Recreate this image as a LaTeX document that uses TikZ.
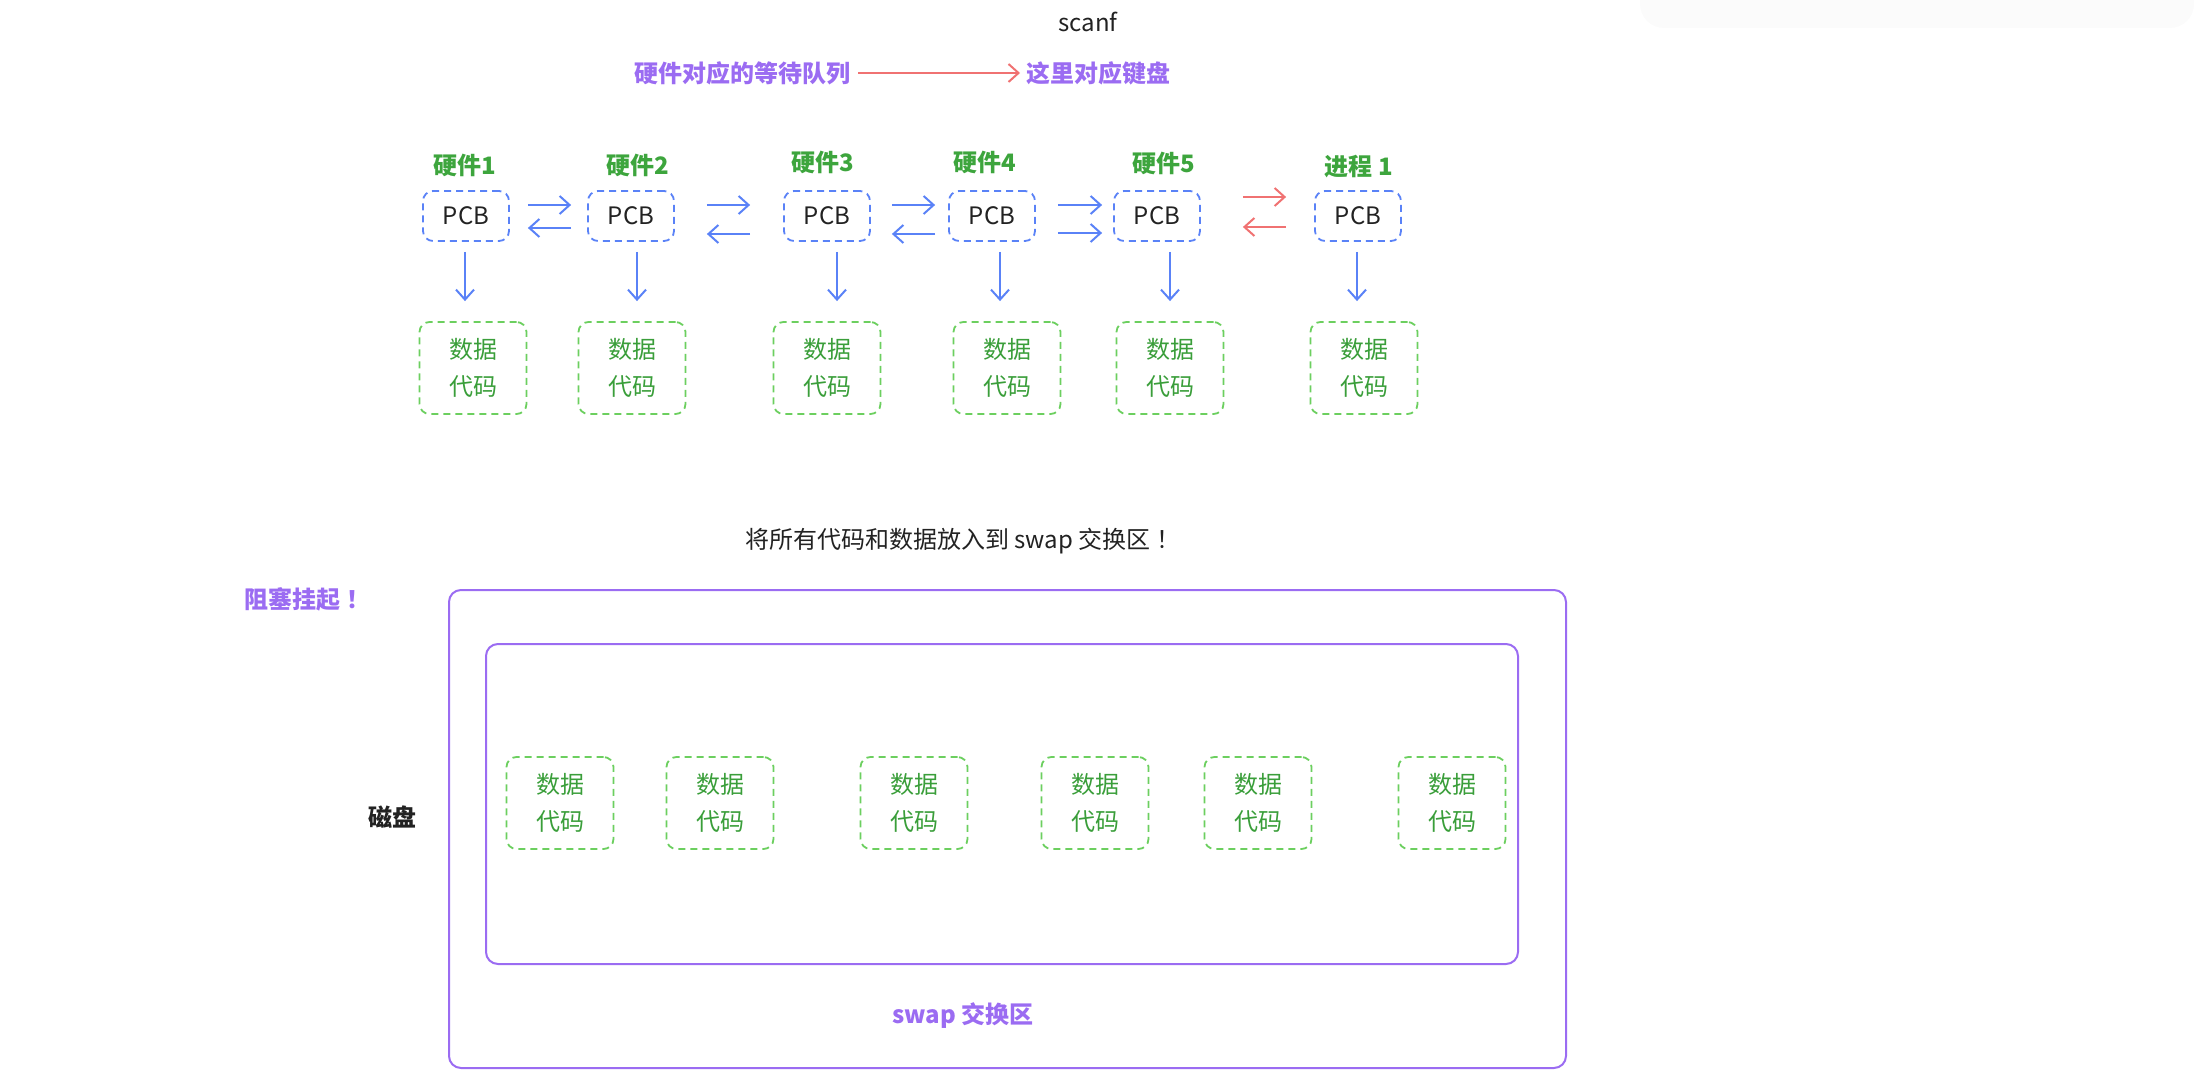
\documentclass[tikz,border=0pt]{standalone}
\usepackage{fontspec}
\setmainfont{Noto Sans CJK SC}
% centred full-width punctuation
\newfontfamily\punctfont{Noto Sans CJK TC}
\newcommand{\bang}{{\punctfont ！}}
\usetikzlibrary{arrows.meta,calc}

\definecolor{pcbblue}{HTML}{5A82F7}
\definecolor{arrred}{HTML}{F07272}
\definecolor{boxgreen}{HTML}{6CCF5F}
\definecolor{txtgreen}{HTML}{3A9E3A}
\definecolor{lblgreen}{HTML}{3DA53D}
\definecolor{violet}{HTML}{9B6CF2}
\definecolor{ink}{HTML}{222222}

\tikzset{
  base/.style={font=\fontsize{12}{14}\selectfont, inner sep=0pt},
  pcbbox/.style={base, draw=pcbblue, line width=0.9pt, dash pattern=on 3.5pt off 2.5pt,
    rounded corners=5pt, minimum width=43pt, minimum height=25pt, text=ink},
  databox/.style={draw=boxgreen, line width=0.9pt, dash pattern=on 3.5pt off 2.5pt,
    rounded corners=5pt, minimum width=53.5pt, minimum height=46pt, text=txtgreen,
    align=center, inner sep=0pt, font=\fontsize{12}{18.5}\selectfont},
  hwlabel/.style={base, text=lblgreen, font=\fontsize{12}{14}\selectfont\bfseries},
  violetlabel/.style={base, text=violet, font=\fontsize{12}{14}\selectfont\bfseries},
  arrowblue/.style={draw=pcbblue, line width=1pt, -{Straight Barb[length=5pt,width=9pt]}},
  arrowred/.style={draw=arrred, line width=1pt, -{Straight Barb[length=5pt,width=9pt]}},
  swapframe/.style={draw=violet, line width=1pt, rounded corners=6pt}
}

\begin{document}
\begin{tikzpicture}[x=0.5pt,y=-0.5pt]
\useasboundingbox (0,0) rectangle (2194,1074);
\fill[black!1.5, rounded corners=12pt] (1640,-30) rectangle (2194,28);

% headings
\node[base, text=ink] (scanf) at (1088,22) {scanf};
\node[violetlabel, anchor=east] (queue) at (851,73) {硬件对应的等待队列};
\node[violetlabel, anchor=west] (kbd) at (1026,73) {这里对应键盘};
\draw[arrowred, shorten <=3.5pt, shorten >=3pt] (queue.east) -- (kbd.west);

% device / process labels
\node[hwlabel] (h1) at (465,165) {硬件1};
\node[hwlabel] (h2) at (638,165) {硬件2};
\node[hwlabel] (h3) at (823,162) {硬件3};
\node[hwlabel] (h4) at (985,162) {硬件4};
\node[hwlabel] (h5) at (1164,163) {硬件5};
\node[hwlabel] (h6) at (1359,167) {进程 1};

% PCB chain
\node[pcbbox] (p1) at (466,216) {PCB};
\node[pcbbox] (p2) at (631,216) {PCB};
\node[pcbbox] (p3) at (827,216) {PCB};
\node[pcbbox] (p4) at (992,216) {PCB};
\node[pcbbox] (p5) at (1157,216) {PCB};
\node[pcbbox] (p6) at (1358,216) {PCB};

% data/code blocks in memory
\node[databox] (d1) at (473,368) {数据\\代码};
\node[databox] (d2) at (632,368) {数据\\代码};
\node[databox] (d3) at (827,368) {数据\\代码};
\node[databox] (d4) at (1007,368) {数据\\代码};
\node[databox] (d5) at (1170,368) {数据\\代码};
\node[databox] (d6) at (1364,368) {数据\\代码};

% links between neighbouring PCBs
\draw[arrowblue, shorten <=9pt, shorten >=8pt] ($(p1.east)+(0,-11)$) -- ($(p2.west)+(0,-11)$);
\draw[arrowblue, shorten <=8pt, shorten >=9pt] ($(p2.west)+(0,12)$) -- ($(p1.east)+(0,12)$);
\draw[arrowblue, shorten <=16pt, shorten >=16.5pt] ($(p2.east)+(0,-11)$) -- ($(p3.west)+(0,-11)$);
\draw[arrowblue, shorten <=16.5pt, shorten >=16pt] ($(p3.west)+(0,18)$) -- ($(p2.east)+(0,18)$);
\draw[arrowblue, shorten <=10.5pt, shorten >=6.5pt] ($(p3.east)+(0,-11)$) -- ($(p4.west)+(0,-11)$);
\draw[arrowblue, shorten <=6.5pt, shorten >=10.5pt] ($(p4.west)+(0,18)$) -- ($(p3.east)+(0,18)$);
\draw[arrowblue, shorten <=11pt, shorten >=5.5pt] ($(p4.east)+(0,-11)$) -- ($(p5.west)+(0,-11)$);
\draw[arrowblue, shorten <=11pt, shorten >=5.5pt] ($(p4.east)+(0,17)$) -- ($(p5.west)+(0,17)$);
\draw[arrowred, shorten <=21pt, shorten >=14pt] ($(p5.east)+(0,-19)$) -- ($(p6.west)+(0,-19)$);
\draw[arrowred, shorten <=14pt, shorten >=21pt] ($(p6.west)+(0,11)$) -- ($(p5.east)+(0,11)$);

% PCB -> its data/code
\draw[arrowblue, shorten <=5pt, shorten >=10pt] ([xshift=-0.5pt]p1.south) -- ([xshift=-0.5pt]p1.south |- d1.north);
\draw[arrowblue, shorten <=5pt, shorten >=10pt] ([xshift=3pt]p2.south) -- ([xshift=3pt]p2.south |- d2.north);
\draw[arrowblue, shorten <=5pt, shorten >=10pt] ([xshift=5pt]p3.south) -- ([xshift=5pt]p3.south |- d3.north);
\draw[arrowblue, shorten <=5pt, shorten >=10pt] ([xshift=4pt]p4.south) -- ([xshift=4pt]p4.south |- d4.north);
\draw[arrowblue, shorten <=5pt, shorten >=10pt] ([xshift=6.5pt]p5.south) -- ([xshift=6.5pt]p5.south |- d5.north);
\draw[arrowblue, shorten <=5pt, shorten >=10pt] ([xshift=-0.5pt]p6.south) -- ([xshift=-0.5pt]p6.south |- d6.north);

% swap area
\node[base, text=ink] (note) at (960,541) {将所有代码和数据放入到 swap 交换区\bang};
\node[violetlabel] (blocked) at (304,599) {阻塞挂起\bang};
\node[swapframe, minimum width=558.5pt, minimum height=239pt] (outer) at (1007.5,829) {};
\node[swapframe, minimum width=516pt, minimum height=160pt] (inner) at (1002,804) {};
\node[base, text=ink, font=\fontsize{12}{14}\selectfont\bfseries] (disk) at (392,817) {磁盘};
\node[violetlabel] (swaplbl) at (963,1016) {swap 交换区};

\node[databox] (s1) at (560,803) {数据\\代码};
\node[databox] (s2) at (720,803) {数据\\代码};
\node[databox] (s3) at (914,803) {数据\\代码};
\node[databox] (s4) at (1095,803) {数据\\代码};
\node[databox] (s5) at (1258,803) {数据\\代码};
\node[databox] (s6) at (1452,803) {数据\\代码};
\end{tikzpicture}
\end{document}
